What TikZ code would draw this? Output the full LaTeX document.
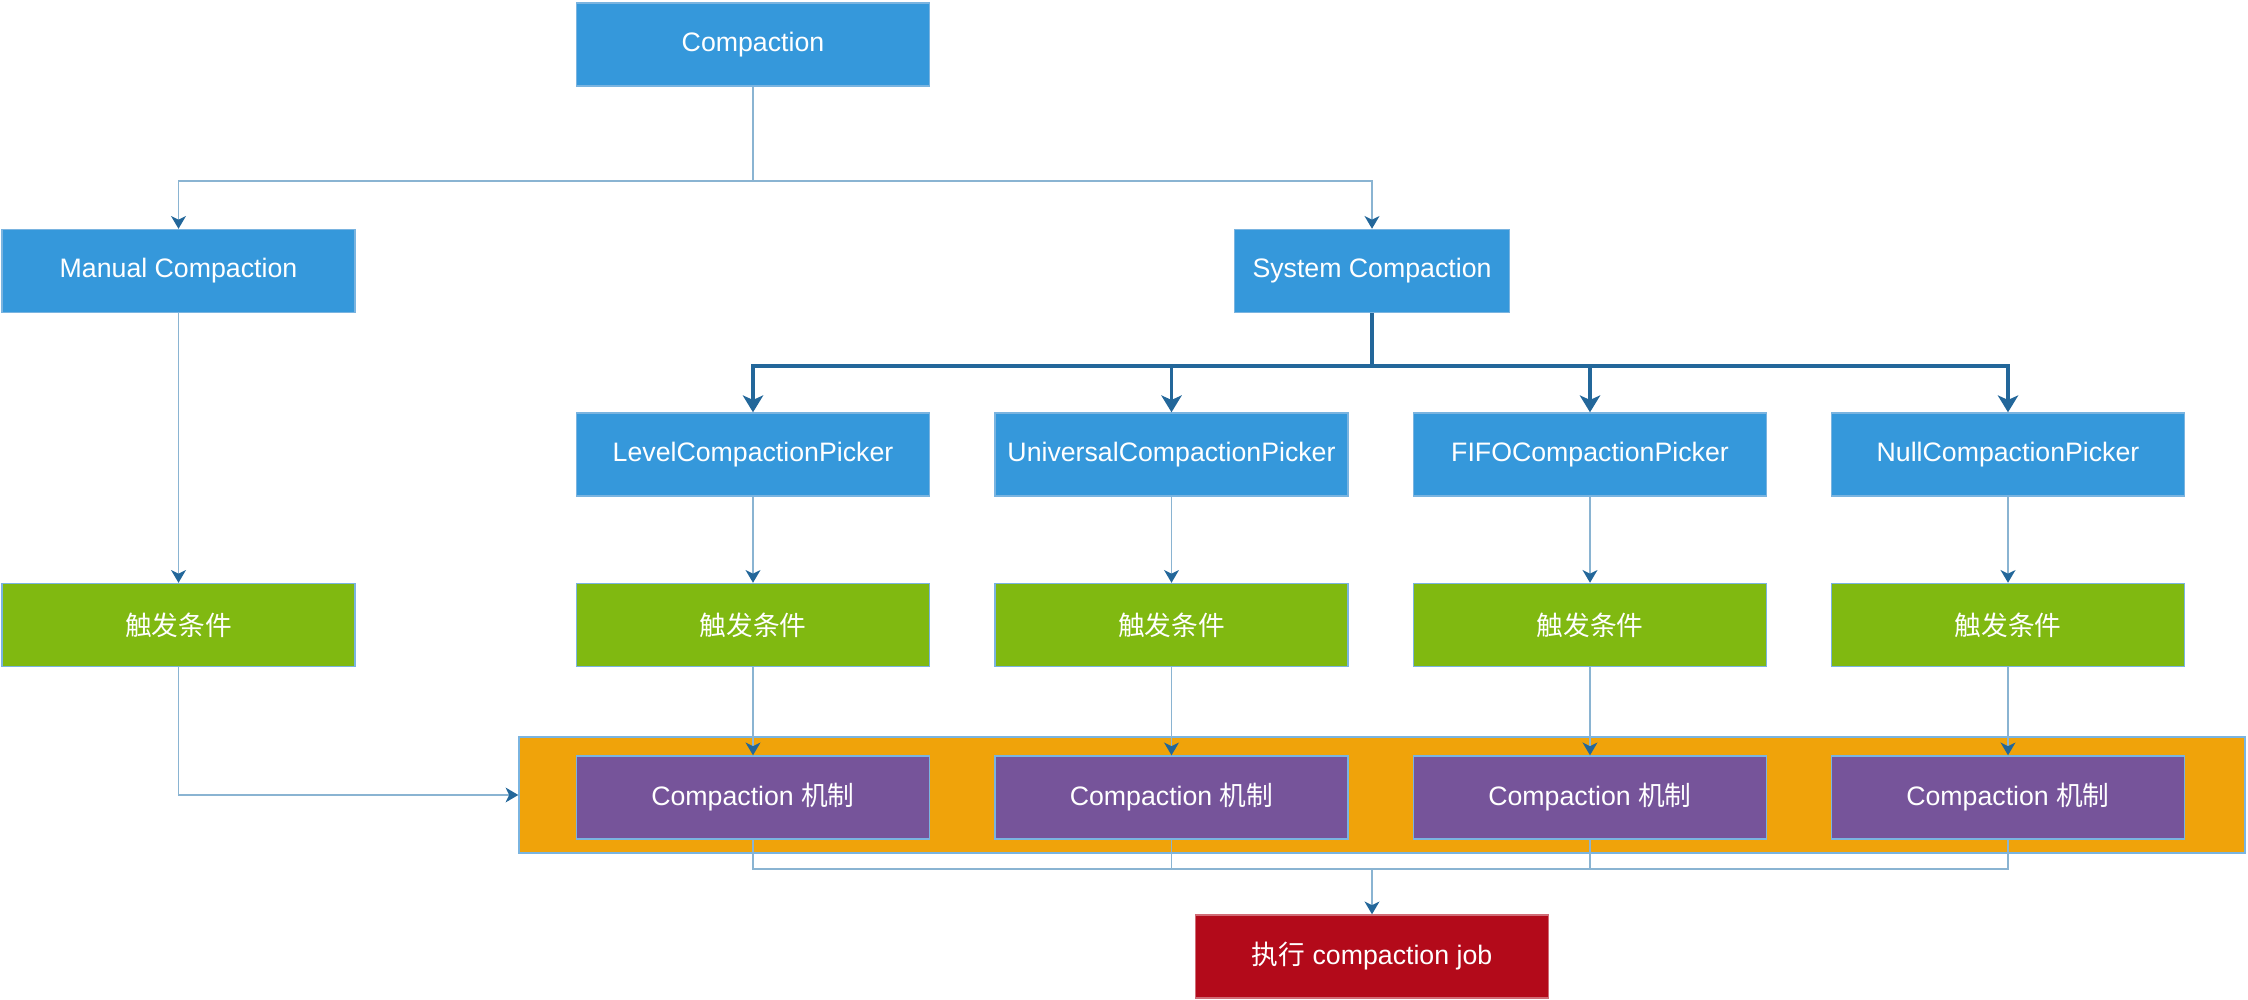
\documentclass[tikz,border=0pt]{standalone}
\usepackage{fontspec}
\setmainfont{Liberation Sans}
\newfontfamily\cjk{Noto Sans CJK SC}
\usetikzlibrary{arrows.meta}
\definecolor{boxblue}{HTML}{3598DB}
\definecolor{boxgreen}{HTML}{80B911}
\definecolor{boxorange}{HTML}{F0A30A}
\definecolor{boxpurple}{HTML}{76549A}
\definecolor{boxred}{HTML}{B30A1A}
\definecolor{edgeblue}{HTML}{7AB4E0}
\definecolor{linkthin}{HTML}{8AB4D2}
\definecolor{linkdark}{HTML}{23679A}
\begin{document}
\begin{tikzpicture}[
    base/.style={rectangle, draw=edgeblue, line width=0.4pt, minimum width=3.53cm, minimum height=0.83cm, align=center, text=white, font=\fontsize{7.6}{9}\selectfont, inner sep=0pt},
    kind/.style={base, fill=boxblue},
    trigger/.style={base, fill=boxgreen},
    mech/.style={base, fill=boxpurple},
    job/.style={base, fill=boxred, draw=boxred!60!white},
    pool/.style={rectangle, draw=edgeblue, line width=0.4pt, fill=boxorange, minimum width=17.26cm, minimum height=1.16cm, inner sep=0pt},
    link/.style={draw=linkthin, line width=0.55pt},
    arrow/.style={link, -{Stealth[length=3.6pt, width=4.2pt, inset=1pt, color=linkdark]}},
    fatlink/.style={draw=linkdark, line width=1.1pt},
    fatarrow/.style={fatlink, -{Stealth[length=4.8pt, width=5.8pt, inset=1.3pt]}}
]
    \useasboundingbox (0,0) rectangle (22.48,-10);

    % Top level
    \node[kind] (comp) at (7.53, -0.445) {Compaction};
    \node[kind] (manual) at (1.785, -2.71) {Manual Compaction};
    \node[kind, minimum width=2.75cm] (system) at (13.72, -2.71) {System Compaction};

    % Pickers
    \node[kind] (level) at (7.53, -4.545) {LevelCompactionPicker};
    \node[kind] (universal) at (11.715, -4.545) {UniversalCompactionPicker};
    \node[kind] (fifo) at (15.90, -4.545) {FIFOCompactionPicker};
    \node[kind] (null) at (20.08, -4.545) {NullCompactionPicker};

    % Trigger conditions
    \node[trigger] (mtrig) at (1.785, -6.25) {\cjk 触发条件};
    \node[trigger] (ltrig) at (7.53, -6.25) {\cjk 触发条件};
    \node[trigger] (utrig) at (11.715, -6.25) {\cjk 触发条件};
    \node[trigger] (ftrig) at (15.90, -6.25) {\cjk 触发条件};
    \node[trigger] (ntrig) at (20.08, -6.25) {\cjk 触发条件};

    % Compaction mechanisms
    \node[pool] (pool) at (13.82, -7.95) {};
    \node[mech] (lmech) at (7.53, -7.975) {Compaction {\cjk 机制}};
    \node[mech] (umech) at (11.715, -7.975) {Compaction {\cjk 机制}};
    \node[mech] (fmech) at (15.90, -7.975) {Compaction {\cjk 机制}};
    \node[mech] (nmech) at (20.08, -7.975) {Compaction {\cjk 机制}};

    % Result
    \node[job] (run) at (13.72, -9.565) {{\cjk 执行} compaction job};

    % Split into manual and system
    \draw[link] (comp.south) -- (7.53, -1.81) coordinate (split);
    \draw[arrow] (split) -| (manual);
    \draw[arrow] (split) -| (system);

    % System fans out to pickers
    \draw[fatlink] (system.south) -- (13.72, -3.66) coordinate (fork);
    \draw[fatarrow] (fork) -| (level);
    \draw[fatarrow] (fork) -| (universal);
    \draw[fatarrow] (fork) -| (fifo);
    \draw[fatarrow] (fork) -| (null);

    % Pickers to triggers
    \draw[arrow] (manual) -- (mtrig);
    \draw[arrow] (level) -- (ltrig);
    \draw[arrow] (universal) -- (utrig);
    \draw[arrow] (fifo) -- (ftrig);
    \draw[arrow] (null) -- (ntrig);

    % Triggers to mechanisms
    \draw[arrow] (mtrig.south) |- (pool.west);
    \draw[arrow] (ltrig) -- (lmech);
    \draw[arrow] (utrig) -- (umech);
    \draw[arrow] (ftrig) -- (fmech);
    \draw[arrow] (ntrig) -- (nmech);

    % Merge into the job
    \coordinate (merge) at (13.72, -8.69);
    \draw[link] (lmech.south) |- (merge);
    \draw[link] (umech.south) |- (merge);
    \draw[link] (fmech.south) |- (merge);
    \draw[link] (nmech.south) |- (merge);
    \draw[arrow] (merge) -- (run);
\end{tikzpicture}
\end{document}
